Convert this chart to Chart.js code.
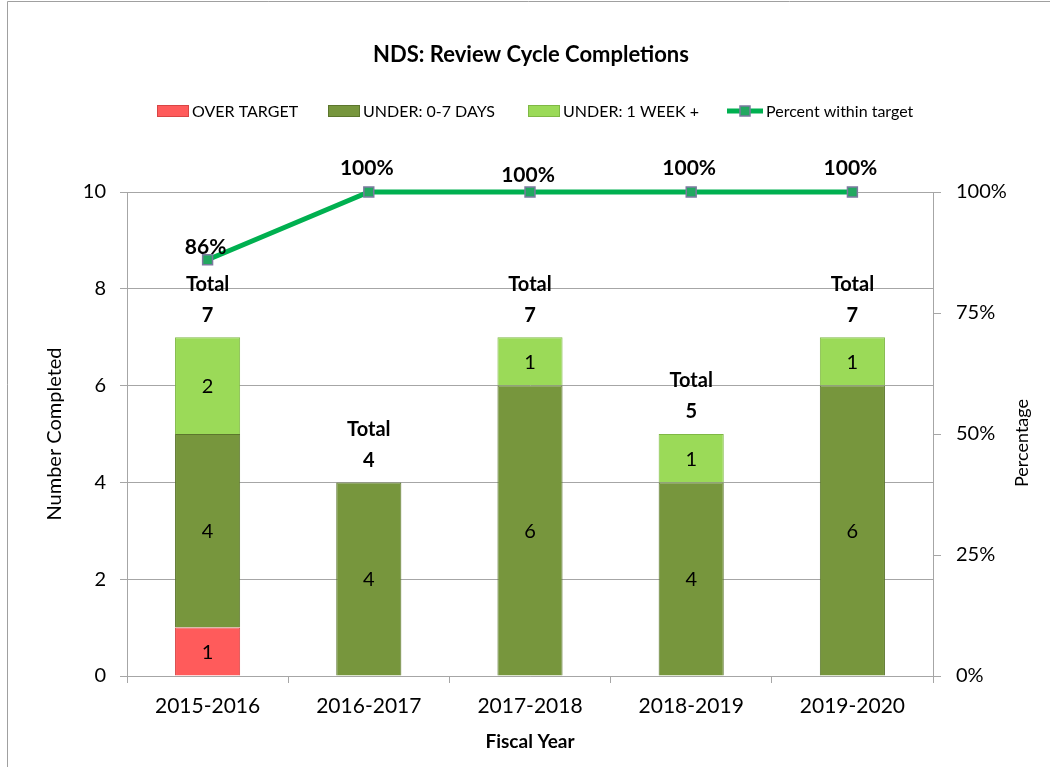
<!DOCTYPE html>
<html>

<head>
  <title>NDS: Review Cycle Completions</title>
  <style>
    html, body { margin: 0; padding: 0; background: #ffffff; }
    #wrap { position: relative; width: 1050px; height: 767px; }
  </style>
  <script src="https://cdn.jsdelivr.net/npm/chart.js"></script>
</head>

<body>
  <div id="wrap">
    <canvas id="myChart" width="1050" height="767"></canvas>
  </div>

  <script>
    // data
    var years = ["2015-2016", "2016-2017", "2017-2018", "2018-2019", "2019-2020"];
    var overTarget = [1, 0, 0, 0, 0];
    var underShort = [4, 4, 6, 4, 6];
    var underLong = [2, 0, 1, 1, 1];
    var percentWithin = [86, 100, 100, 100, 100];

    var FONT = "Lato, 'DejaVu Sans', sans-serif";

    // bevel-ish fill: darker at the edges, lighter in the middle
    function bevel(mid, edge) {
      return function (c) {
        var el = c.element;
        if (!el || el.width === undefined) return mid;
        var g = c.chart.ctx.createLinearGradient(el.x - el.width / 2, 0, el.x + el.width / 2, 0);
        g.addColorStop(0, edge);
        g.addColorStop(0.08, mid);
        g.addColorStop(0.92, mid);
        g.addColorStop(1, edge);
        return g;
      };
    }

    var labelsPlugin = {
      id: "labelsPlugin",
      beforeDraw: function (chart) {
        var ctx = chart.ctx;
        ctx.save();
        ctx.fillStyle = "#ffffff";
        ctx.fillRect(0, 0, chart.width, chart.height);
        ctx.strokeStyle = "#a0a0a0";
        ctx.lineWidth = 1;
        ctx.beginPath();
        ctx.moveTo(7.5, chart.height);
        ctx.lineTo(7.5, 1.5);
        ctx.lineTo(chart.width, 1.5);
        ctx.stroke();
        ctx.restore();
      },
      afterDatasetsDraw: function (chart) {
        var ctx = chart.ctx;
        var opts = chart.options.plugins.labelsPlugin;
        ctx.save();
        ctx.textAlign = "center";
        ctx.textBaseline = "middle";
        ctx.fillStyle = "#000000";

        // values inside each segment
        ctx.font = "20px " + FONT;
        [0, 1, 2].forEach(function (di) {
          var meta = chart.getDatasetMeta(di);
          var data = chart.data.datasets[di].data;
          meta.data.forEach(function (bar, i) {
            if (!data[i]) return;
            ctx.fillText(String(data[i]), bar.x, (bar.y + bar.base) / 2 + 1);
          });
        });

        // totals above the stacks
        var yScale = chart.scales.y;
        var xMeta = chart.getDatasetMeta(1);
        ctx.font = "bold 20px " + FONT;
        years.forEach(function (y, i) {
          var total = overTarget[i] + underShort[i] + underLong[i];
          var top = yScale.getPixelForValue(total);
          var x = xMeta.data[i].x;
          ctx.fillText("Total", x, top - 53);
          ctx.fillText(String(total), x, top - 22);
        });

        // percent labels above the line points
        ctx.font = "bold 21px " + FONT;
        var lineMeta = chart.getDatasetMeta(3);
        lineMeta.data.forEach(function (pt, i) {
          ctx.fillText(percentWithin[i] + "%", pt.x - 2, pt.y - opts.pctOffsets[i]);
        });

        ctx.restore();
      },
      afterDraw: function (chart) {
        var ctx = chart.ctx;
        ctx.save();
        // title
        ctx.fillStyle = "#000000";
        ctx.textAlign = "center";
        ctx.textBaseline = "middle";
        ctx.font = "bold 22px " + FONT;
        ctx.fillText("NDS: Review Cycle Completions", 531, 55);

        // right axis title, reading upwards
        ctx.font = "18px " + FONT;
        ctx.translate(1022, 443);
        ctx.rotate(-Math.PI / 2);
        ctx.fillText("Percentage", 0, 0);
        ctx.setTransform(1, 0, 0, 1, 0, 0);

        // legend
        var ly = 111;
        var items = [
          { x: 157, ds: 0, text: "OVER TARGET", fill: "#ff5b5b" },
          { x: 328, ds: 1, text: "UNDER: 0-7 DAYS", fill: "#77963d" },
          { x: 528, ds: 2, text: "UNDER: 1 WEEK +", fill: "#9bda58" }
        ];
        ctx.font = "16px " + FONT;
        ctx.textAlign = "left";
        items.forEach(function (it) {
          var d = chart.data.datasets[it.ds];
          ctx.fillStyle = it.fill;
          ctx.fillRect(it.x, ly - 6, 32, 12);
          ctx.strokeStyle = d.borderColor;
          ctx.lineWidth = 1;
          ctx.strokeRect(it.x + 0.5, ly - 5.5, 31, 11);
          ctx.fillStyle = "#000000";
          ctx.fillText(it.text, it.x + 35, ly + 1);
        });
        var line = chart.data.datasets[3];
        ctx.strokeStyle = line.borderColor;
        ctx.lineWidth = 5;
        ctx.beginPath();
        ctx.moveTo(727, ly);
        ctx.lineTo(763, ly);
        ctx.stroke();
        ctx.fillStyle = line.pointBackgroundColor;
        ctx.fillRect(740, ly - 5, 10, 10);
        ctx.strokeStyle = line.pointBorderColor;
        ctx.lineWidth = 1.5;
        ctx.strokeRect(740, ly - 5, 10, 10);
        ctx.fillStyle = "#000000";
        ctx.fillText("Percent within target", 766, ly + 1);
        ctx.restore();
      }
    };

    var gridColor = "#a6a6a6";

    var ctx = document.getElementById("myChart").getContext("2d");
    var myChart = new Chart(ctx, {
      data: {
        labels: years,
        datasets: [
          {
            type: "bar", label: "OVER TARGET", data: overTarget, yAxisID: "y", order: 2,
            backgroundColor: bevel("#ff5b5b", "#e24a4a"), borderColor: "#d84545", borderWidth: 1
          },
          {
            type: "bar", label: "UNDER: 0-7 DAYS", data: underShort, yAxisID: "y", order: 2,
            backgroundColor: bevel("#77963d", "#657f33"), borderColor: "#5c762d", borderWidth: 1
          },
          {
            type: "bar", label: "UNDER: 1 WEEK +", data: underLong, yAxisID: "y", order: 2,
            backgroundColor: bevel("#9bda58", "#86c447"), borderColor: "#7fb845", borderWidth: 1
          },
          {
            type: "line", label: "Percent within target", data: percentWithin, yAxisID: "y1", order: 0,
            clip: false,
            borderColor: "#00b050", borderWidth: 5, tension: 0,
            pointStyle: "rect", pointRadius: 7, pointHoverRadius: 7,
            pointBackgroundColor: "#22a860", pointBorderColor: "#7a7a9e", pointBorderWidth: 1.5
          }
        ]
      },
      options: {
        responsive: false,
        animation: false,
        layout: { padding: { top: 192, left: 0, right: 0, bottom: 0 } },
        datasets: {
          bar: { categoryPercentage: 1, barPercentage: 0.404 }
        },
        plugins: {
          legend: { display: false },
          tooltip: { enabled: false },
          labelsPlugin: { pctOffsets: [13, 24, 17, 24, 24] }
        },
        scales: {
          x: {
            stacked: true,
            afterFit: function (s) { s.height = 91; },
            grid: { drawOnChartArea: false, color: gridColor, tickLength: 7 },
            border: { color: gridColor },
            ticks: { color: "#000000", font: { family: FONT, size: 21 }, padding: 11 },
            title: {
              display: true, text: "Fiscal Year", color: "#000000",
              font: { family: FONT, size: 19, weight: "bold" }, padding: { top: 0, bottom: 14 }
            }
          },
          y: {
            stacked: true, position: "left", min: 0, max: 10,
            afterFit: function (s) { s.width = 127; },
            grid: { color: gridColor, tickLength: 7 },
            border: { color: gridColor },
            ticks: { stepSize: 2, color: "#000000", font: { family: FONT, size: 20 }, padding: 14 },
            title: {
              display: true, text: "Number Completed", color: "#000000",
              font: { family: FONT, size: 20 }, padding: { top: 43, bottom: 0 }
            }
          },
          y1: {
            position: "right", min: 0, max: 100,
            afterFit: function (s) { s.width = 117; },
            grid: { drawOnChartArea: false, color: gridColor, tickLength: 8 },
            border: { color: gridColor },
            ticks: {
              stepSize: 25, color: "#000000", font: { family: FONT, size: 20 }, padding: 15,
              callback: function (v) { return v + "%"; }
            }
          }
        }
      },
      plugins: [labelsPlugin]
    });
  </script>

</body>

</html>
